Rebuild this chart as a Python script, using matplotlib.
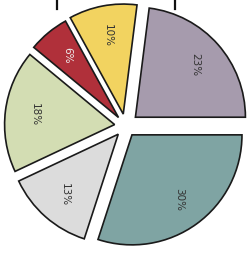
import matplotlib
matplotlib.use("Agg")
import matplotlib.pyplot as plt

# slice data, counter-clockwise from 3 o'clock
shares = [23, 10, 6, 18, 13, 30]
colors = ['#a69bad', '#f2d360', '#b0303a', '#d3ddb3', '#dcdcdc', '#7fa4a3']
label_colors = ['#333333', '#333333', '#eeeeee', '#333333', '#333333', '#333333']
explode = [0.12, 0.11, 0.1, 0.1, 0.1, 0.1]

# little tick marks sticking in at the top edge (axes fractions)
tick_x = [0.225, 0.69]

fig = plt.figure(figsize=(2.53, 2.54), dpi=100)
ax = fig.add_axes([0, 0, 1, 1])

wedges, texts, autotexts = ax.pie(
    shares,
    colors=colors,
    explode=explode,
    startangle=0,
    counterclock=True,
    autopct='%d%%',
    pctdistance=0.73,
    wedgeprops=dict(edgecolor='#1a1a1a', linewidth=1.2),
    textprops=dict(fontsize=7.5, rotation=-90),
)
for t, c in zip(autotexts, label_colors):
    t.set_color(c)
    t.set_rotation(-90)

ax.set_xlim(-1.141, 1.159)
ax.set_ylim(-1.164, 1.145)
ax.set_aspect('auto')
ax.axis('off')

for x in tick_x:
    ax.plot([x, x], [1.0, 0.965], transform=ax.transAxes, color='#111111', lw=1.6)

fig.savefig('out.png', dpi=100)
